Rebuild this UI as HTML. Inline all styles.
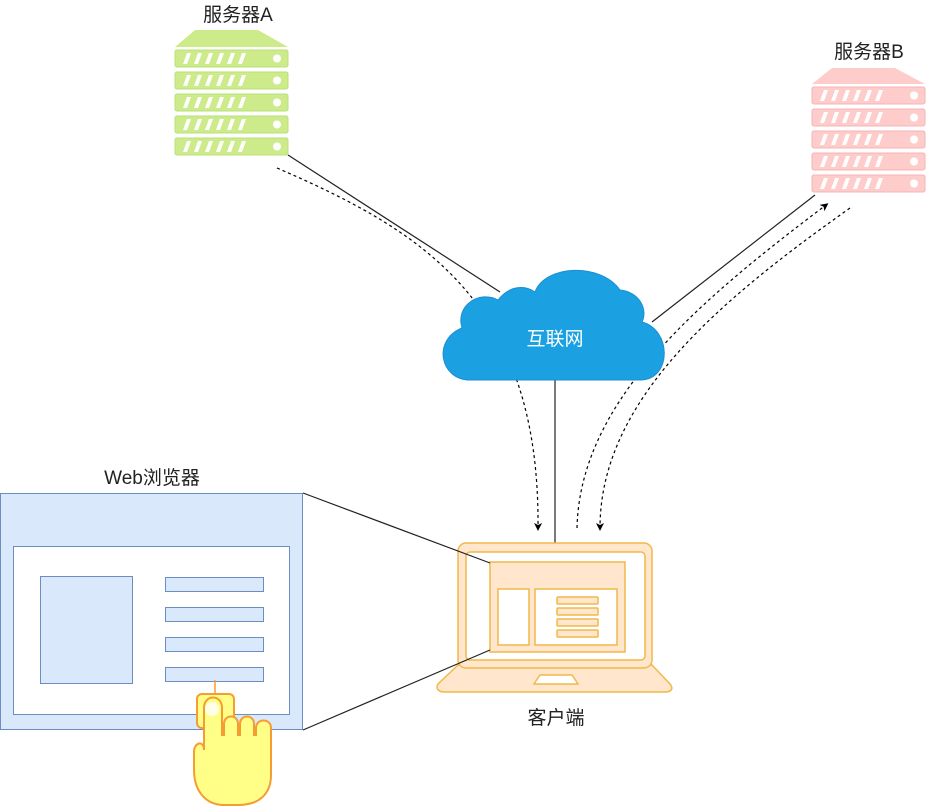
<!DOCTYPE html>
<html><head><meta charset="utf-8"><style>
body{margin:0;background:#fff;}
text{font-family:"Liberation Sans","Noto Sans CJK SC",sans-serif;}
</style></head><body>
<svg width="928" height="807" viewBox="0 0 928 807" xmlns="http://www.w3.org/2000/svg">
<defs>
<marker id="ar" markerWidth="8" markerHeight="8" refX="5" refY="4" orient="auto" markerUnits="userSpaceOnUse"><path d="M0,0 L8,4 L0,8 L2,4 z" fill="#000"/></marker>
<g id="unitA"><rect x="0" y="0" width="113" height="17" rx="2" fill="#cdeb8b" stroke="#b9e07a" stroke-width="1"/>
<g fill="#fff"><path d="M8,14 L12,3 L16,3 L12,14z"/><path d="M19,14 L23,3 L27,3 L23,14z"/><path d="M30,14 L34,3 L38,3 L34,14z"/><path d="M41,14 L45,3 L49,3 L45,14z"/><path d="M52,14 L56,3 L60,3 L56,14z"/><path d="M63,14 L67,3 L71,3 L67,14z"/><circle cx="102" cy="8.5" r="4"/></g></g>
<g id="unitB"><rect x="0" y="0" width="113" height="17" rx="2" fill="#ffcccc" stroke="#f5b5b5" stroke-width="1"/>
<g fill="#fff"><path d="M8,14 L12,3 L16,3 L12,14z"/><path d="M19,14 L23,3 L27,3 L23,14z"/><path d="M30,14 L34,3 L38,3 L34,14z"/><path d="M41,14 L45,3 L49,3 L45,14z"/><path d="M52,14 L56,3 L60,3 L56,14z"/><path d="M63,14 L67,3 L71,3 L67,14z"/><circle cx="102" cy="8.5" r="4"/></g></g>
</defs>

<!-- connectors -->
<line x1="288" y1="155" x2="500" y2="292" stroke="#222" stroke-width="1.2"/>
<line x1="652" y1="322" x2="815" y2="195" stroke="#222" stroke-width="1.2"/>
<line x1="555" y1="378" x2="555" y2="543" stroke="#222" stroke-width="1.2"/>
<path d="M277,168 C420,230 540,300 538,528" fill="none" stroke="#000" stroke-width="1.2" stroke-dasharray="3,3" marker-end="url(#ar)"/>
<path d="M577,528 C580,400 700,300 826,205" fill="none" stroke="#000" stroke-width="1.2" stroke-dasharray="3,3" marker-end="url(#ar)"/>
<path d="M850,208 C720,300 600,400 600,528" fill="none" stroke="#000" stroke-width="1.2" stroke-dasharray="3,3" marker-end="url(#ar)"/>

<!-- server A -->
<text x="238" y="21" font-size="19" text-anchor="middle" fill="#222">服务器A</text>
<path d="M195,30 L258,30 L288,47 L175,47z" fill="#cdeb8b"/>
<use href="#unitA" x="175" y="50"/>
<use href="#unitA" x="175" y="72"/>
<use href="#unitA" x="175" y="94"/>
<use href="#unitA" x="175" y="116"/>
<use href="#unitA" x="175" y="138"/>

<!-- server B -->
<text x="869" y="58" font-size="19" text-anchor="middle" fill="#222">服务器B</text>
<path d="M832,68 L895,68 L925,84 L812,84z" fill="#ffcccc"/>
<use href="#unitB" x="812" y="87"/>
<use href="#unitB" x="812" y="109"/>
<use href="#unitB" x="812" y="131"/>
<use href="#unitB" x="812" y="153"/>
<use href="#unitB" x="812" y="175"/>

<!-- cloud -->
<path d="M470,380 C440,380 432,340 462,328 C455,305 480,290 498,300 C510,285 525,285 535,292 C545,265 600,262 620,290 C640,292 648,310 642,322 C672,330 672,380 640,380 Z" fill="#1ba1e2" stroke="#1a8fd0" stroke-width="1"/>
<text x="555" y="345" font-size="19" text-anchor="middle" fill="#fff">互联网</text>

<!-- browser -->
<text x="152" y="484" font-size="19" text-anchor="middle" fill="#222">Web浏览器</text>
<rect x="0.5" y="493.5" width="302" height="236" fill="#dae8fc" stroke="#6c8ebf"/>
<rect x="13.5" y="546.5" width="276" height="168" fill="#fff" stroke="#6c8ebf"/>
<rect x="40.5" y="576.5" width="92" height="107" fill="#dae8fc" stroke="#6c8ebf"/>
<rect x="165.5" y="577.5" width="98" height="14" fill="#dae8fc" stroke="#6c8ebf"/>
<rect x="165.5" y="607.5" width="98" height="14" fill="#dae8fc" stroke="#6c8ebf"/>
<rect x="165.5" y="637.5" width="98" height="14" fill="#dae8fc" stroke="#6c8ebf"/>
<rect x="165.5" y="667.5" width="98" height="14" fill="#dae8fc" stroke="#6c8ebf"/>

<!-- hand -->
<g stroke="#f59d32" stroke-width="2" fill="#ffff88">
<line x1="215" y1="680" x2="215" y2="694" stroke-width="1.5"/>
<rect x="197" y="694" width="37" height="34" rx="5"/>
<path d="M204,745 L204,708 C204,694 222,694 222,708 L222,735 L224,735 L224,724 C224,714 238,714 238,724 L238,735 L240,735 L240,724 C240,714 254,714 254,724 L254,735 L256,735 L256,728 C256,718 271,718 271,728 L271,775 C271,795 258,805 238,805 L224,805 C205,805 194,790 194,770 L194,752 C194,742 204,740 204,750 Z"/>
</g>
<circle cx="212" cy="709" r="7" fill="#fff" opacity="0.8"/>

<!-- laptop -->
<g stroke="#f0b94a" stroke-width="1.5">
<path d="M458,665 L438,684 C435,690 440,692 445,692 L665,692 C671,692 674,689 670,684 L652,665 Z" fill="#ffe6cc"/>
<rect x="458" y="543" width="194" height="125" rx="8" fill="#ffe6cc"/>
<rect x="466" y="552" width="179" height="108" rx="4" fill="#fff"/>
<rect x="490" y="562" width="135" height="90" fill="#ffe6cc"/>
<rect x="498" y="589" width="31" height="56" fill="#fff"/>
<rect x="535" y="589" width="82" height="56" fill="#fff"/>
<rect x="557" y="597" width="41" height="7" rx="1" fill="#ffe6cc"/>
<rect x="557" y="608" width="41" height="7" rx="1" fill="#ffe6cc"/>
<rect x="557" y="619" width="41" height="7" rx="1" fill="#ffe6cc"/>
<rect x="557" y="630" width="41" height="7" rx="1" fill="#ffe6cc"/>
<path d="M540,675 L572,675 L578,684 L534,684 Z" fill="#fff"/>
</g>
<line x1="303" y1="493" x2="490" y2="563" stroke="#222" stroke-width="1.2"/>
<line x1="303" y1="730" x2="490" y2="650" stroke="#222" stroke-width="1.2"/>
<text x="556" y="724" font-size="19" text-anchor="middle" fill="#222">客户端</text>
</svg>
</body></html>
